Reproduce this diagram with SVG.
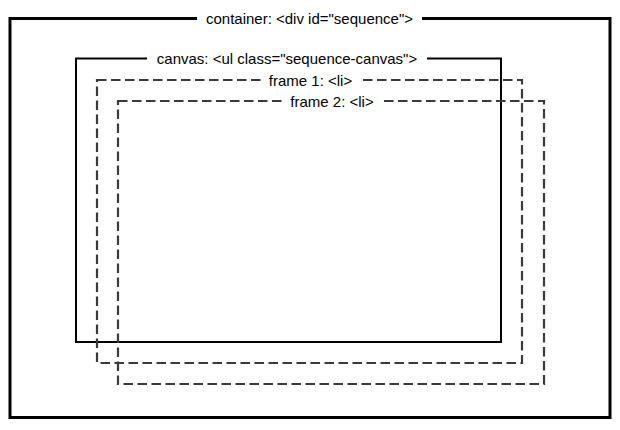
<svg xmlns="http://www.w3.org/2000/svg" width="620" height="430" viewBox="0 0 620 430">
  <style>
    .solid { fill: none; stroke: #000; }
    .dash { fill: none; stroke: #3a3a3a; stroke-width: 2.2; stroke-dasharray: 9.5 4.5; }
    .bg { fill: #fff; }
    .lbl { font-family: "Liberation Sans", Arial, Helvetica, sans-serif; font-size: 15px; fill: #000; text-anchor: middle; }
  </style>
  <rect width="620" height="430" fill="#fff"/>
  <g id="container">
    <rect class="solid" x="10" y="18.5" width="600" height="399" stroke-width="3"/>
    <rect class="bg" x="197" y="10" width="225" height="16"/>
    <text class="lbl" x="309.5" y="23.5">container: &lt;div id="sequence"&gt;</text>
  </g>
  <g id="canvas">
    <rect class="solid" x="76" y="58.5" width="425" height="283.5" stroke-width="2"/>
    <rect class="bg" x="147" y="50" width="280" height="16"/>
    <text class="lbl" x="287" y="63.5">canvas: &lt;ul class="sequence-canvas"&gt;</text>
  </g>
  <g id="frame1">
    <rect class="dash" x="97" y="80" width="425" height="283"/>
    <rect class="bg" x="262" y="72" width="100" height="16"/>
    <text class="lbl" x="310.5" y="85.5">frame 1: &lt;li&gt;</text>
  </g>
  <g id="frame2">
    <rect class="dash" x="118" y="101" width="426" height="283"/>
    <rect class="bg" x="282" y="93" width="100" height="16"/>
    <text class="lbl" x="332" y="106.5">frame 2: &lt;li&gt;</text>
  </g>
  <g id="connectors"></g>
</svg>
